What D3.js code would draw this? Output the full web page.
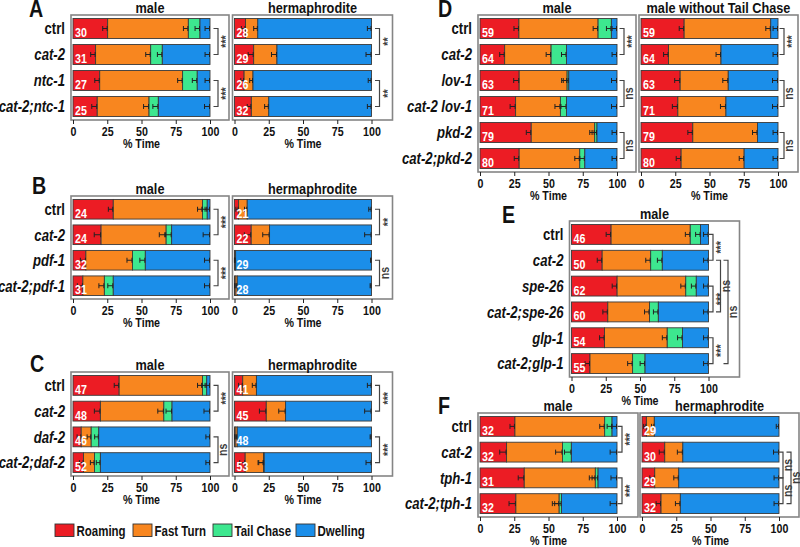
<!DOCTYPE html>
<html><head><meta charset="utf-8">
<script src="https://cdn.jsdelivr.net/npm/d3@7/dist/d3.min.js"></script>
<style>
body{margin:0;background:#fff}
svg text{font-family:"Liberation Sans",Arial,sans-serif;font-weight:bold;fill:#111}
</style></head><body>
<svg id="c" width="800" height="547"></svg>
<script>
// ---------- data ----------
const keys = ["Roaming","Fast Turn","Tail Chase","Dwelling"];
const colors = ["#ec1c24","#f8861f","#3de78f","#1b8ee9"];
const ticks = [0,25,50,75,100];

// Panel A
const A_cats = ["ctrl","cat-2","ntc-1","cat-2;ntc-1"];
const A_male_roam  = [25.3,16.5,19.5,17.7];
const A_male_fast  = [58.9,40.2,60.5,37.8];
const A_male_tail  = [8.5,8.5,10.7,6.8];
const A_male_dwell = [7.3,34.8,9.3,37.7];
const A_male_n     = [30,31,27,25];
const A_male_se    = [1.8,1.8,1.8,2];
const A_male_sig   = [[0,1,"***",0],[2,3,"***",0]];
const A_herm_roam  = [8,14,7,12.3];
const A_herm_fast  = [9,17,6.5,12.7];
const A_herm_tail  = [0,0,0,0];
const A_herm_dwell = [83,69,86.5,75];
const A_herm_n     = [28,29,26,32];
const A_herm_se    = [1.5,2,1.2,1.5];
const A_herm_sig   = [[0,1,"**",0],[2,3,"**",0]];

// Panel B
const B_cats = ["ctrl","cat-2","pdf-1","cat-2;pdf-1"];
const B_male_roam  = [29.4,20.5,9.4,7.2];
const B_male_fast  = [65.1,47.5,34,15.7];
const B_male_tail  = [3.5,4,9.4,6.5];
const B_male_dwell = [2,28,47.2,70.6];
const B_male_n     = [24,24,32,31];
const B_male_se    = [1.8,2.5,2,2];
const B_male_sig   = [[0,1,"***",0],[2,3,"***",0]];
const B_herm_roam  = [3,12.2,0.3,0.5];
const B_herm_fast  = [6.3,13.4,0.5,1.5];
const B_herm_tail  = [0,0,0,0];
const B_herm_dwell = [90.7,74.4,99.2,98];
const B_herm_n     = [21,22,29,28];
const B_herm_se    = [1,2.5,0.3,0.5];
const B_herm_sig   = [[0,1,"**",0],[2,3,"ns",0]];

// Panel C
const C_cats = ["ctrl","cat-2","daf-2","cat-2;daf-2"];
const C_male_roam  = [33.7,20,6,7.7];
const C_male_fast  = [60.8,46.3,7.3,8];
const C_male_tail  = [3.1,6,5.5,4.3];
const C_male_dwell = [2.4,27.7,81.2,80];
const C_male_n     = [47,48,46,52];
const C_male_se    = [1.8,2.2,1.5,1.5];
const C_male_sig   = [[0,1,"***",0],[2,3,"ns",0]];
const C_herm_roam  = [6,23.2,0.5,7.8];
const C_herm_fast  = [10,14.1,1.5,13.4];
const C_herm_tail  = [0,0,0,0.5];
const C_herm_dwell = [84,62.7,98,78.3];
const C_herm_n     = [41,45,48,53];
const C_herm_se    = [1.5,2.5,0.5,2];
const C_herm_sig   = [[0,1,"***",0],[2,3,"***",0]];

// Panel D
const D_cats = ["ctrl","cat-2","lov-1","cat-2 lov-1","pkd-2","cat-2;pkd-2"];
const D_male_roam  = [28.4,18,28.6,26,37.4,28.6];
const D_male_fast  = [57.8,33.9,35,32.7,46.3,44.2];
const D_male_tail  = [9.7,11.2,1.2,4.4,1.7,3.7];
const D_male_dwell = [4.1,36.9,35.2,36.9,14.6,23.5];
const D_male_n     = [59,64,63,71,79,80];
const D_male_se    = [1.8,1.8,2,2,1.8,1.8];
const D_male_sig   = [[0,1,"***",0],[2,3,"ns",0],[4,5,"ns",0]];
const D_notc_roam  = [31.5,20.1,28.6,26.9,37.8,29.3];
const D_notc_fast  = [63.2,38.3,35.1,35.1,47.2,46];
const D_notc_tail  = [0,0,0,0,0,0];
const D_notc_dwell = [5.3,41.6,36.3,38,15,24.7];
const D_notc_n     = [59,64,63,71,79,80];
const D_notc_se    = [1.8,1.8,2,2,1.8,1.8];
const D_notc_sig   = [[0,1,"***",0],[2,3,"ns",0],[4,5,"ns",0]];

// Panel E
const E_cats = ["ctrl","cat-2","spe-26","cat-2;spe-26","glp-1","cat-2;glp-1"];
const E_male_roam  = [28.9,22.4,33.3,26.5,24.1,13.5];
const E_male_fast  = [57.8,35.4,50.1,30.4,45.8,31.1];
const E_male_tail  = [7.5,8.5,7.7,6.5,11.1,9.1];
const E_male_dwell = [5.8,33.7,8.9,36.6,19,46.3];
const E_male_n     = [46,50,62,60,54,55];
const E_male_se    = [1.8,1.8,1.8,1.8,1.8,1.8];
const E_male_sig   = [[0,1,"***",0],[2,3,"***",0],[4,5,"***",0],[1,3,"ns",1],[1,5,"ns",2]];

// Panel F
const F_cats = ["ctrl","cat-2","tph-1","cat-2;tph-1"];
const F_male_roam  = [25.5,19.4,32.3,26.2];
const F_male_fast  = [65.5,40.8,51.9,31.6];
const F_male_tail  = [5.4,6.5,2,1.7];
const F_male_dwell = [3.6,33.3,13.8,40.5];
const F_male_n     = [32,32,31,32];
const F_male_se    = [1.8,2.5,2.2,2.5];
const F_male_sig   = [[0,1,"***",0],[2,3,"***",0]];
const F_herm_roam  = [3.2,16.6,9.3,13.9];
const F_herm_fast  = [5.8,13.2,17.5,14.1];
const F_herm_tail  = [0,0,0,0];
const F_herm_dwell = [91,70.2,73.2,72];
const F_herm_n     = [29,30,29,32];
const F_herm_se    = [1,2,1.8,1.8];
const F_herm_sig   = [[1,2,"ns",0],[2,3,"ns",0],[1,3,"ns",1]];

// ---------- drawing ----------
const svg = d3.select("#c");

function panel(p){
  const x = d3.scaleLinear().domain([0,100]).range([p.fx+2, p.fx+139]);
  const y = d3.scaleBand().domain(p.cats).range([p.fy, p.fy+p.fh]).paddingInner(0.23).paddingOuter(0.135);
  const rows = p.cats.map((c,i)=>({cat:c,"Roaming":p.v[0][i],"Fast Turn":p.v[1][i],"Tail Chase":p.v[2][i],"Dwelling":p.v[3][i]}));
  const series = d3.stack().keys(keys)(rows);
  const g = svg.append("g");
  series.forEach((s,k)=>{
    g.selectAll(null).data(s.filter(d=>d[1]-d[0]>0)).join("rect")
      .attr("x",d=>x(d[0])).attr("width",d=>x(d[1])-x(d[0]))
      .attr("y",d=>y(d.data.cat)).attr("height",y.bandwidth())
      .attr("fill",colors[k]).attr("stroke","#3a3a3a").attr("stroke-width",0.9);
  });
  // error bars
  series.forEach((s,k)=>{
    s.forEach((d,i)=>{
      if(d[1]-d[0]<=0) return;
      const se = p.se[i];
      const x1 = x(Math.max(0,d[1]-2*se)), x2 = x(d[1])-0.5;
      const cy = y(d.data.cat)+y.bandwidth()/2;
      const path = `M${x1},${cy}H${x2}M${x1},${cy-2.5}V${cy+2.5}M${x2},${cy-2.5}V${cy+2.5}`;
      g.append("path").attr("d",path).attr("stroke","#222").attr("stroke-width",1).attr("fill","none");
    });
  });
  // n labels
  g.selectAll(null).data(p.cats).join("text")
    .attr("x",x(0)+2).attr("y",d=>y(d)+y.bandwidth()-1.5)
    .attr("font-size",13).style("fill","#fff").text((d,i)=>p.n[i]);
  // frame
  g.append("rect").attr("x",p.fx).attr("y",p.fy).attr("width",p.fw).attr("height",p.fh)
    .attr("fill","none").attr("stroke","#858585").attr("stroke-width",1.6);
  // axis
  const ax = g.append("g").attr("transform",`translate(0,${p.fy+p.fh})`)
    .call(d3.axisBottom(x).tickValues(ticks).tickSize(4).tickPadding(3));
  ax.attr("font-family",null).attr("font-size",null);
  ax.select(".domain").remove();
  ax.selectAll(".tick line").attr("stroke","#222");
  ax.selectAll(".tick text").attr("font-size",13).style("fill","#111");
  g.append("text").attr("x",(x(0)+x(100))/2).attr("y",p.fy+p.fh+27.5)
    .attr("text-anchor","middle").attr("font-size",13).text("% Time");
  // title
  g.append("text").attr("x",p.fx+p.fw/2).attr("y",p.fy-2.5)
    .attr("text-anchor","middle").attr("font-size",15.5).text(p.title);
  // category labels
  if(p.labels){
    g.selectAll(null).data(p.cats).join("text")
      .attr("x",p.fx-6).attr("y",d=>y(d)+y.bandwidth()/2+5.8)
      .attr("text-anchor","end").attr("font-size",16)
      .style("font-style",d=>d==="ctrl"?"normal":"italic").text(d=>d);
  }
  // significance brackets
  p.sig.forEach(([a,b,lab,lev])=>{
    const bx = x(100)+p.br+lev*p.brs;
    const y1 = y(p.cats[a])+y.bandwidth()/2, y2 = y(p.cats[b])+y.bandwidth()/2;
    g.append("path").attr("d",`M${bx-4.5},${y1}H${bx}V${y2}H${bx-4.5}`)
      .attr("fill","none").attr("stroke","#444").attr("stroke-width",1.2);
    const tx = bx + (lab==="ns"?9:12);
    g.append("text").attr("transform",`translate(${tx},${(y1+y2)/2}) rotate(-90)`)
      .attr("text-anchor","middle").attr("font-size",13)
      .style("fill","#3a3a3a").style("opacity",0.98).text(lab);
  });
}

function v(r,f,t,d){return [r,f,t,d];}
panel({fx:71,fy:15,fw:158,fh:105,cats:A_cats,v:v(A_male_roam,A_male_fast,A_male_tail,A_male_dwell),n:A_male_n,se:A_male_se,sig:A_male_sig,title:"male",labels:true,br:8,brs:8});
panel({fx:232.5,fy:15,fw:160,fh:105,cats:A_cats,v:v(A_herm_roam,A_herm_fast,A_herm_tail,A_herm_dwell),n:A_herm_n,se:A_herm_se,sig:A_herm_sig,title:"hermaphrodite",labels:false,br:8,brs:8});
panel({fx:71,fy:196,fw:158,fh:103,cats:B_cats,v:v(B_male_roam,B_male_fast,B_male_tail,B_male_dwell),n:B_male_n,se:B_male_se,sig:B_male_sig,title:"male",labels:true,br:8,brs:8});
panel({fx:232.5,fy:196,fw:160,fh:103,cats:B_cats,v:v(B_herm_roam,B_herm_fast,B_herm_tail,B_herm_dwell),n:B_herm_n,se:B_herm_se,sig:B_herm_sig,title:"hermaphrodite",labels:false,br:8,brs:8});
panel({fx:71,fy:372,fw:158,fh:104,cats:C_cats,v:v(C_male_roam,C_male_fast,C_male_tail,C_male_dwell),n:C_male_n,se:C_male_se,sig:C_male_sig,title:"male",labels:true,br:8,brs:8});
panel({fx:232.5,fy:372,fw:160,fh:104,cats:C_cats,v:v(C_herm_roam,C_herm_fast,C_herm_tail,C_herm_dwell),n:C_herm_n,se:C_herm_se,sig:C_herm_sig,title:"hermaphrodite",labels:false,br:8,brs:8});
panel({fx:478,fy:15,fw:158,fh:157,cats:D_cats,v:v(D_male_roam,D_male_fast,D_male_tail,D_male_dwell),n:D_male_n,se:D_male_se,sig:D_male_sig,title:"male",labels:true,br:7,brs:8});
panel({fx:639,fy:15,fw:159,fh:157,cats:D_cats,v:v(D_notc_roam,D_notc_fast,D_notc_tail,D_notc_dwell),n:D_notc_n,se:D_notc_se,sig:D_notc_sig,title:"male without Tail Chase",labels:false,br:6,brs:8});
panel({fx:569.5,fy:221,fw:170,fh:156,cats:E_cats,v:v(E_male_roam,E_male_fast,E_male_tail,E_male_dwell),n:E_male_n,se:E_male_se,sig:E_male_sig,title:"male",labels:true,br:4.5,brs:7.5});
panel({fx:478,fy:413,fw:160,fh:104,cats:F_cats,v:v(F_male_roam,F_male_fast,F_male_tail,F_male_dwell),n:F_male_n,se:F_male_se,sig:F_male_sig,title:"male",labels:true,br:5,brs:8});
panel({fx:640,fy:413,fw:159,fh:104,cats:F_cats,v:v(F_herm_roam,F_herm_fast,F_herm_tail,F_herm_dwell),n:F_herm_n,se:F_herm_se,sig:F_herm_sig,title:"hermaphrodite",labels:false,br:4,brs:8});

// panel letters
const letters = [["A",29,17],["B",32,194],["C",30,372],["D",438,17],["E",502,223],["F",438,414]];
svg.selectAll(null).data(letters).join("text")
  .attr("x",d=>d[1]).attr("y",d=>d[2]).attr("font-size",24).text(d=>d[0]);

// legend
const legX = [55,133,213,296];
const lg = svg.append("g");
keys.forEach((k,i)=>{
  lg.append("rect").attr("x",legX[i]).attr("y",524).attr("width",19).attr("height",12.5)
    .attr("fill",colors[i]).attr("stroke","#333").attr("stroke-width",0.9);
  lg.append("text").attr("x",legX[i]+21.5).attr("y",536).attr("font-size",14).text(k);
});

// condense all text horizontally (narrow bold face look)
svg.selectAll("text").each(function(){
  const l = this.getComputedTextLength();
  if(l>0) d3.select(this).attr("textLength", (l*0.82).toFixed(2)).attr("lengthAdjust","spacingAndGlyphs");
});
</script>
</body></html>
